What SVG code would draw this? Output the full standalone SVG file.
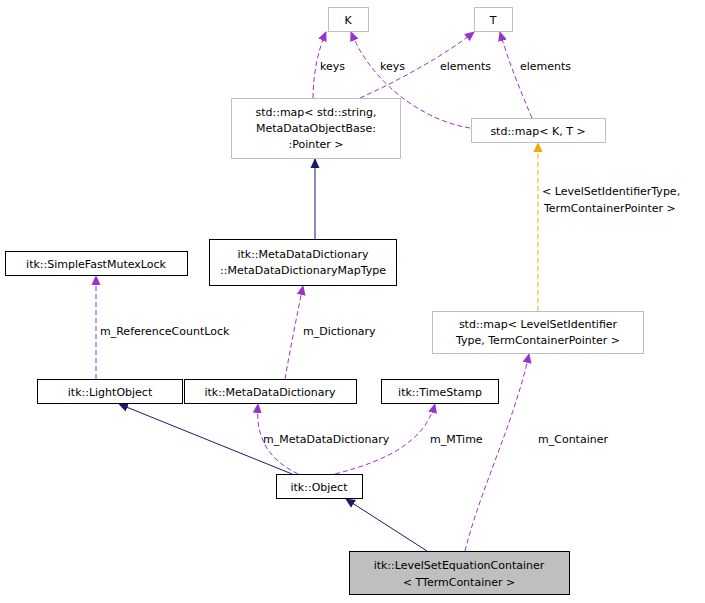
<svg xmlns="http://www.w3.org/2000/svg" width="705" height="603" viewBox="0 0 705 603">
<defs>
<style>
text{font-family:"DejaVu Sans",Verdana,sans-serif;font-size:11px;fill:#000}
.n rect{fill:#fff;stroke:#000;stroke-width:1}
.g rect{stroke:#bfbfbf}
.m text{text-anchor:middle}
.p{fill:none;stroke:#9a32cd;stroke-dasharray:5,3}
.s{fill:none;stroke:#191970}
.o{fill:none;stroke:#ffa500;stroke-dasharray:5,3}
</style>
<marker id="ap" markerWidth="10" markerHeight="10" refX="9" refY="5" orient="auto" markerUnits="userSpaceOnUse"><path d="M0,0.5L10,5L0,9.5z" fill="#9a32cd"/></marker>
<marker id="as" markerWidth="10" markerHeight="10" refX="9" refY="5" orient="auto" markerUnits="userSpaceOnUse"><path d="M0,0.5L10,5L0,9.5z" fill="#191970"/></marker>
<marker id="ao" markerWidth="10" markerHeight="10" refX="9" refY="5" orient="auto" markerUnits="userSpaceOnUse"><path d="M0,0.5L10,5L0,9.5z" fill="#ffa500"/></marker>
</defs>
<rect width="705" height="603" fill="#fff"/>
<g id="edges">
<path class="p" d="M313,98C313,75 318,50 326,32" marker-end="url(#ap)"/>
<text x="320" y="70">keys</text>
<path class="p" d="M360,98C400,80 445,55 474,32" marker-end="url(#ap)"/>
<text x="440" y="70">elements</text>
<path class="p" d="M470,128C420,120 370,80 351,32" marker-end="url(#ap)"/>
<text x="380" y="70">keys</text>
<path class="p" d="M532,118C520,90 508,60 500,32" marker-end="url(#ap)"/>
<text x="520" y="70">elements</text>
<path class="s" d="M315,239L315,159" marker-end="url(#as)"/>
<path class="p" d="M96,379L96,276" marker-end="url(#ap)"/>
<text x="100" y="335">m_ReferenceCountLock</text>
<path class="p" d="M285,379C290,350 298,310 303,286" marker-end="url(#ap)"/>
<text x="303" y="335">m_Dictionary</text>
<path class="o" d="M538,311L538,143" marker-end="url(#ao)"/>
<text x="542" y="195">&lt; LevelSetIdentifierType,</text>
<text x="544" y="212">TermContainerPointer &gt;</text>
<path class="s" d="M292,474L119,404" marker-end="url(#as)"/>
<path class="p" d="M298,474C270,460 255,440 258,404" marker-end="url(#ap)"/>
<text x="263" y="443">m_MetaDataDictionary</text>
<path class="p" d="M335,474C390,460 425,440 435,404" marker-end="url(#ap)"/>
<text x="430" y="443">m_MTime</text>
<path class="p" d="M465,551C480,490 515,420 529,354" marker-end="url(#ap)"/>
<text x="538" y="443">m_Container</text>
<path class="s" d="M427,551L346,499" marker-end="url(#as)"/>
</g>
<g id="K" class="n g m"><rect x="328.5" y="7.5" width="40" height="24"/><text x="348" y="24">K</text></g>
<g id="T" class="n g m"><rect x="474.5" y="7.5" width="38" height="24"/><text x="493" y="24">T</text></g>
<g id="mapstr" class="n g m"><rect x="231.5" y="98.5" width="169" height="60"/><text x="316" y="116">std::map&lt; std::string,</text><text x="316" y="132">MetaDataObjectBase:</text><text x="316" y="148">:Pointer &gt;</text></g>
<g id="mapKT" class="n g m"><rect x="471.5" y="118.5" width="134" height="24"/><text x="538" y="135">std::map&lt; K, T &gt;</text></g>
<g id="mutex" class="n m"><rect x="5.5" y="251.5" width="182" height="24"/><text x="96" y="268">itk::SimpleFastMutexLock</text></g>
<g id="maptype" class="n m"><rect x="209.5" y="239.5" width="187" height="46"/><text x="303" y="258">itk::MetaDataDictionary</text><text x="303" y="274">::MetaDataDictionaryMapType</text></g>
<g id="mapLSI" class="n g m"><rect x="432.5" y="311.5" width="211" height="42"/><text x="538" y="328">std::map&lt; LevelSetIdentifier</text><text x="538" y="344">Type, TermContainerPointer &gt;</text></g>
<g id="light" class="n m"><rect x="37.5" y="379.5" width="145" height="24"/><text x="110" y="396">itk::LightObject</text></g>
<g id="mdd" class="n m"><rect x="184.5" y="379.5" width="172" height="24"/><text x="270" y="396">itk::MetaDataDictionary</text></g>
<g id="ts" class="n m"><rect x="381.5" y="379.5" width="117" height="24"/><text x="440" y="396">itk::TimeStamp</text></g>
<g id="obj" class="n m"><rect x="276.5" y="474.5" width="86" height="24"/><text x="319" y="491">itk::Object</text></g>
<g id="lsec" class="n m"><rect x="349.5" y="551.5" width="220" height="43" style="fill:#bfbfbf"/><text x="459" y="569">itk::LevelSetEquationContainer</text><text x="459" y="586">&lt; TTermContainer &gt;</text></g>
</svg>
